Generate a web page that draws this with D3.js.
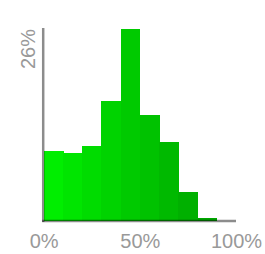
<!DOCTYPE html>
<html><head><meta charset="utf-8">
<script src="https://cdn.jsdelivr.net/npm/d3@7"></script>
<style>html,body{margin:0;padding:0;background:#fff;}</style>
</head><body>
<script>
const binStarts = [0,10,20,30,40,50,60,70,80,90];
const binValues = [9.4,9.1,10.1,16.2,26.0,14.3,10.7,3.85,0.4,0];
const xTicks = [0,50,100];
const yMaxLabel = 26;

const W=265,H=254;
const svg=d3.select("body").append("svg").attr("width",W).attr("height",H);
const x=d3.scaleLinear().domain([0,100]).range([43.7,236]);
const y=d3.scaleLinear().domain([0,yMaxLabel]).range([220.5,29]);
const col=d3.scaleLinear().domain([0,9]).range(["#00ee00","#009e00"]);

svg.selectAll("rect.bar").data(binValues).enter().append("rect")
  .attr("x",(d,i)=>x(binStarts[i]))
  .attr("width",(d,i)=>x(binStarts[i]+10)-x(binStarts[i])+0.6)
  .attr("y",d=>y(d))
  .attr("height",d=>y(0)-y(d))
  .attr("fill",(d,i)=>col(i))
  .attr("shape-rendering","crispEdges");

// axes
svg.append("line").attr("x1",x(0)-0.5).attr("x2",x(0)-0.5).attr("y1",y(yMaxLabel)-1).attr("y2",y(0)+1.5)
  .attr("stroke","rgba(0,0,0,0.45)").attr("stroke-width",2.5);
svg.append("line").attr("x1",x(0)-1.5).attr("x2",x(100)).attr("y1",y(0)+0.5).attr("y2",y(0)+0.5)
  .attr("stroke","rgba(0,0,0,0.45)").attr("stroke-width",2.5);

const xAxis=d3.axisBottom(x).tickValues(xTicks).tickFormat(d=>d+"%").tickSize(0).tickPadding(0);
const gx=svg.append("g").attr("transform","translate(0,234)").call(xAxis);
gx.select(".domain").remove();
gx.selectAll("text").attr("font-family","Liberation Sans, Arial, sans-serif").attr("font-size",20)
  .attr("fill","#999").attr("dy","0.71em");

svg.append("text").attr("transform",`translate(35,${y(yMaxLabel)}) rotate(-90)`)
  .attr("text-anchor","end").attr("font-family","Liberation Sans, Arial, sans-serif")
  .attr("font-size",20).attr("fill","#999").text(yMaxLabel+"%");
</script>
</body></html>
